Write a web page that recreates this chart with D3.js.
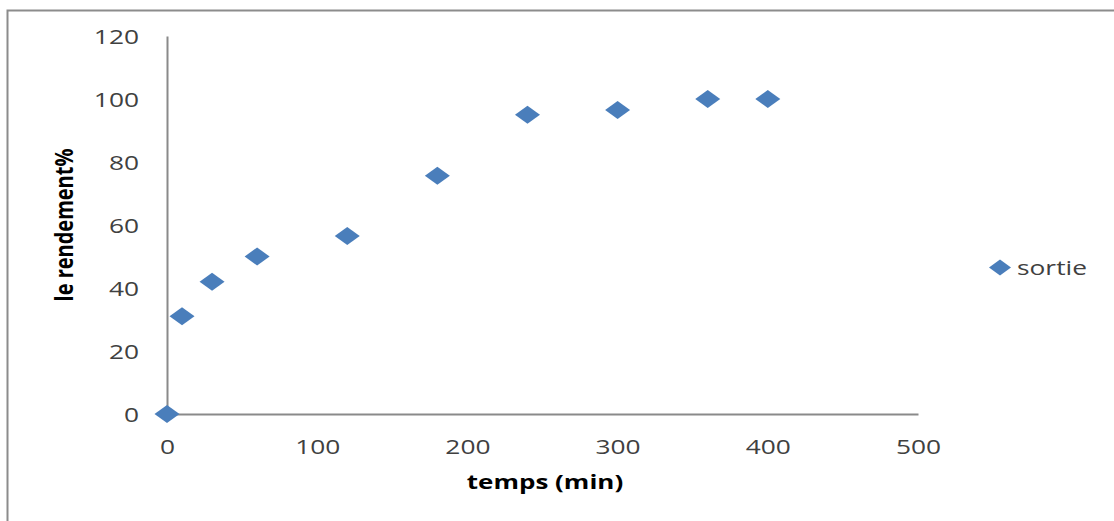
<!DOCTYPE html>
<html><head><meta charset="utf-8">
<script src="https://cdn.jsdelivr.net/npm/d3@7"></script>
<style>html,body{margin:0;padding:0;background:#fff;}svg{display:block;}</style>
</head><body>
<script>
const times = [0, 10, 30, 60, 120, 180, 240, 300, 360, 400];
const rendement = [0, 31, 42, 50, 56.5, 75.6, 95, 96.5, 100, 100];
const xTicks = [0, 100, 200, 300, 400, 500];
const yTicks = [0, 20, 40, 60, 80, 100, 120];
const seriesName = "sortie";

const W = 1114, H = 521;
const SX = 1.35; // horizontal stretch of the reference text
const svg = d3.select("body").append("svg").attr("width", W).attr("height", H);
svg.append("rect").attr("width", W).attr("height", H).attr("fill", "#fff");
// outer frame (top and left visible)
svg.append("path").attr("d", `M7.5,${H} V10.5 H${W}`).attr("fill","none").attr("stroke","#8c8c8c").attr("stroke-width",2);

const x = d3.scaleLinear().domain([0, 500]).range([167, 918]);
const y = d3.scaleLinear().domain([0, 120]).range([414, 36]);
const font = "'Open Sans', 'Noto Sans', sans-serif";
const axisColor = "#8a8a8a";
const markColor = "#4a7ebb";

const xAxis = svg.append("g").attr("transform", `translate(0,${y(0)})`)
  .call(d3.axisBottom(x).tickValues(xTicks).tickSize(0));
const yAxis = svg.append("g").attr("transform", `translate(${x(0)},0)`)
  .call(d3.axisLeft(y).tickValues(yTicks).tickSize(0));
[xAxis, yAxis].forEach(g => {
  g.select(".domain").attr("stroke", axisColor).attr("stroke-width", 2);
  g.selectAll("text").attr("font-family", font).attr("font-size", 19.5).attr("fill", "#404040");
});
xAxis.selectAll("text").attr("x", 0).attr("y", 0).attr("dy", 0)
  .attr("transform", `translate(0,40) scale(${SX},1)`);
yAxis.selectAll("text").attr("x", 0).attr("y", 0).attr("dy", "0.36em")
  .attr("transform", `translate(-28,0) scale(${SX},1)`);

function stretched(tx, ty, extra, size, weight, anchor, txt, fill) {
  return svg.append("text").attr("transform", `translate(${tx},${ty}) ${extra}`)
    .attr("text-anchor", anchor).attr("font-family", font).attr("font-size", size)
    .attr("font-weight", weight).attr("fill", fill).text(txt);
}
stretched(545, 489, `scale(1.3,1)`, 20, "bold", "middle", "temps (min)", "#000");
stretched(73, 225, `scale(1.25,1) rotate(-90)`, 20, "bold", "middle", "le rendement%", "#000");

const diamond = (cx, cy, hw, hh) => `M${cx-hw},${cy} L${cx},${cy-hh} L${cx+hw},${cy} L${cx},${cy+hh} Z`;
svg.append("g").selectAll("path").data(times.map((t,i)=>[t, rendement[i]])).join("path")
  .attr("d", d => diamond(x(d[0]), y(d[1]), 12.5, 9)).attr("fill", markColor);

// legend
svg.append("path").attr("d", diamond(1000, 267.5, 11, 8)).attr("fill", markColor);
stretched(1017, 275, `scale(${SX},1)`, 19.5, "normal", "start", seriesName, "#404040");
</script>
</body></html>
